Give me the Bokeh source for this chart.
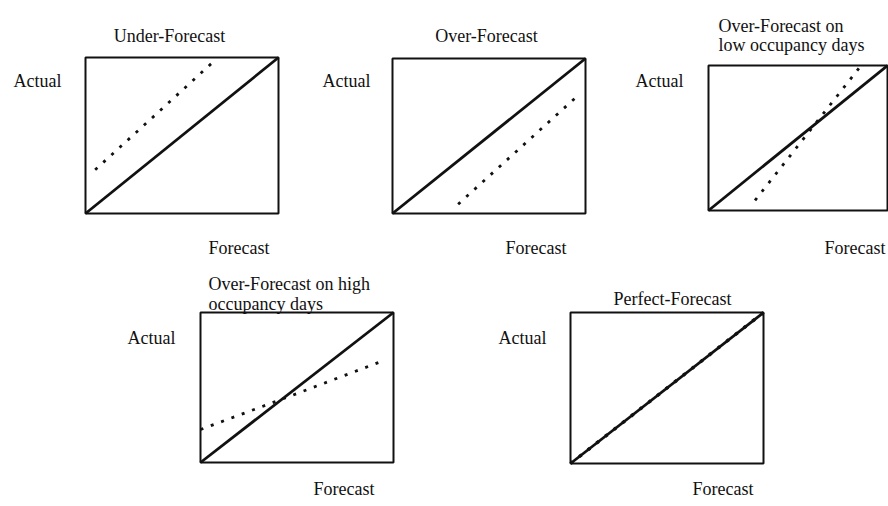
from bokeh.plotting import figure
from bokeh.models import Range1d, Label
from bokeh.layouts import row, column
from bokeh.embed import file_html
from bokeh.resources import INLINE

# ---- data (normalised Forecast / Actual, 0..1) ----
axis_min, axis_max = 0.0, 1.0
ideal_forecast = [0.0, 1.0]
ideal_actual = [0.0, 1.0]

under_forecast = [0.05, 0.36, 0.66]
under_actual = [0.28, 0.63, 0.97]

over_forecast = [0.34, 0.65, 0.96]
over_actual = [0.06, 0.41, 0.76]

low_forecast = [0.26, 0.55, 0.84]
low_actual = [0.07, 0.525, 0.98]

high_forecast = [0.0, 0.48, 0.95]
high_actual = [0.22, 0.45, 0.68]

perfect_forecast = [0.0, 0.5, 1.0]
perfect_actual = [0.0, 0.5, 1.0]

titles = [
    ["Under-Forecast"],
    ["Over-Forecast"],
    ["Over-Forecast on", "low occupancy days"],
    ["Over-Forecast on high", "occupancy days"],
    ["Perfect-Forecast"],
]
x_label = "Forecast"
y_label = "Actual"

FONT = "Liberation Serif"
FS = "18px"
INK = "#111111"

# layout specs (page px): fig origin, fig size, box (left, top, w, h), text positions
specs = [
    dict(x0=0, y0=0, w=300, h=262, frame=(85, 57, 193, 156),
         title=(169, [35], "center"), actual=(13, 80), fc=(208, 247),
         f=under_forecast, a=under_actual),
    dict(x0=300, y0=0, w=300, h=262, frame=(392, 58, 193, 155),
         title=(486, [35], "center"), actual=(322, 80), fc=(505, 247),
         f=over_forecast, a=over_actual),
    dict(x0=600, y0=0, w=288, h=262, frame=(708, 65, 179, 145),
         title=(718, [25, 44], "left"), actual=(635, 80), fc=(824, 247),
         f=low_forecast, a=low_actual),
    dict(x0=0, y0=262, w=460, h=244, frame=(200, 312, 193, 150),
         title=(208, [283, 303], "left"), actual=(127, 337), fc=(313, 488),
         f=high_forecast, a=high_actual),
    dict(x0=460, y0=262, w=428, h=244, frame=(570, 312, 193, 151),
         title=(672, [298], "center"), actual=(498, 337), fc=(692, 488),
         f=perfect_forecast, a=perfect_actual),
]


def make_panel(i, s):
    fl, ft, fw, fh = s["frame"]
    x_start = (s["x0"] - fl) / fw
    x_end = (s["x0"] + s["w"] - fl) / fw
    y_start = (ft + fh - s["y0"] - s["h"]) / fh
    y_end = (ft + fh - s["y0"]) / fh
    p = figure(width=s["w"], height=s["h"], x_axis_type=None, y_axis_type=None,
               x_range=Range1d(x_start, x_end), y_range=Range1d(y_start, y_end),
               toolbar_location=None, output_backend="svg",
               min_border=0, min_border_left=0, min_border_right=0,
               min_border_top=0, min_border_bottom=0)
    p.outline_line_color = None
    p.background_fill_color = "white"
    p.border_fill_color = "white"

    def to_data(px, py):
        return (px - fl) / fw, (ft + fh - py) / fh

    # chart box
    p.quad(left=axis_min, right=axis_max, bottom=axis_min, top=axis_max,
           fill_color=None, line_color=INK, line_width=2)
    # dotted forecast line
    p.line(s["f"], s["a"], line_color=INK, line_width=3.4 if i == 4 else 2.8,
           line_dash="3 8")
    # solid ideal line
    p.line(ideal_forecast, ideal_actual, line_color=INK, line_width=2.8)

    tx, tys, align = s["title"]
    for line_text, ty in zip(titles[i], tys):
        x, y = to_data(tx, ty)
        p.add_layout(Label(x=x, y=y, text=line_text, text_font=FONT,
                           text_font_size=FS, text_color=INK,
                           text_align=align, text_baseline="middle"))
    x, y = to_data(*s["actual"])
    p.add_layout(Label(x=x, y=y, text=y_label, text_font=FONT,
                       text_font_size=FS, text_color=INK,
                       text_align="left", text_baseline="middle"))
    x, y = to_data(*s["fc"])
    p.add_layout(Label(x=x, y=y, text=x_label, text_font=FONT,
                       text_font_size=FS, text_color=INK,
                       text_align="left", text_baseline="middle"))
    return p


panels = [make_panel(i, s) for i, s in enumerate(specs)]
layout = column(row(panels[0], panels[1], panels[2], spacing=0),
                row(panels[3], panels[4], spacing=0), spacing=0)

open("out.html", "w").write(file_html(layout, INLINE))
